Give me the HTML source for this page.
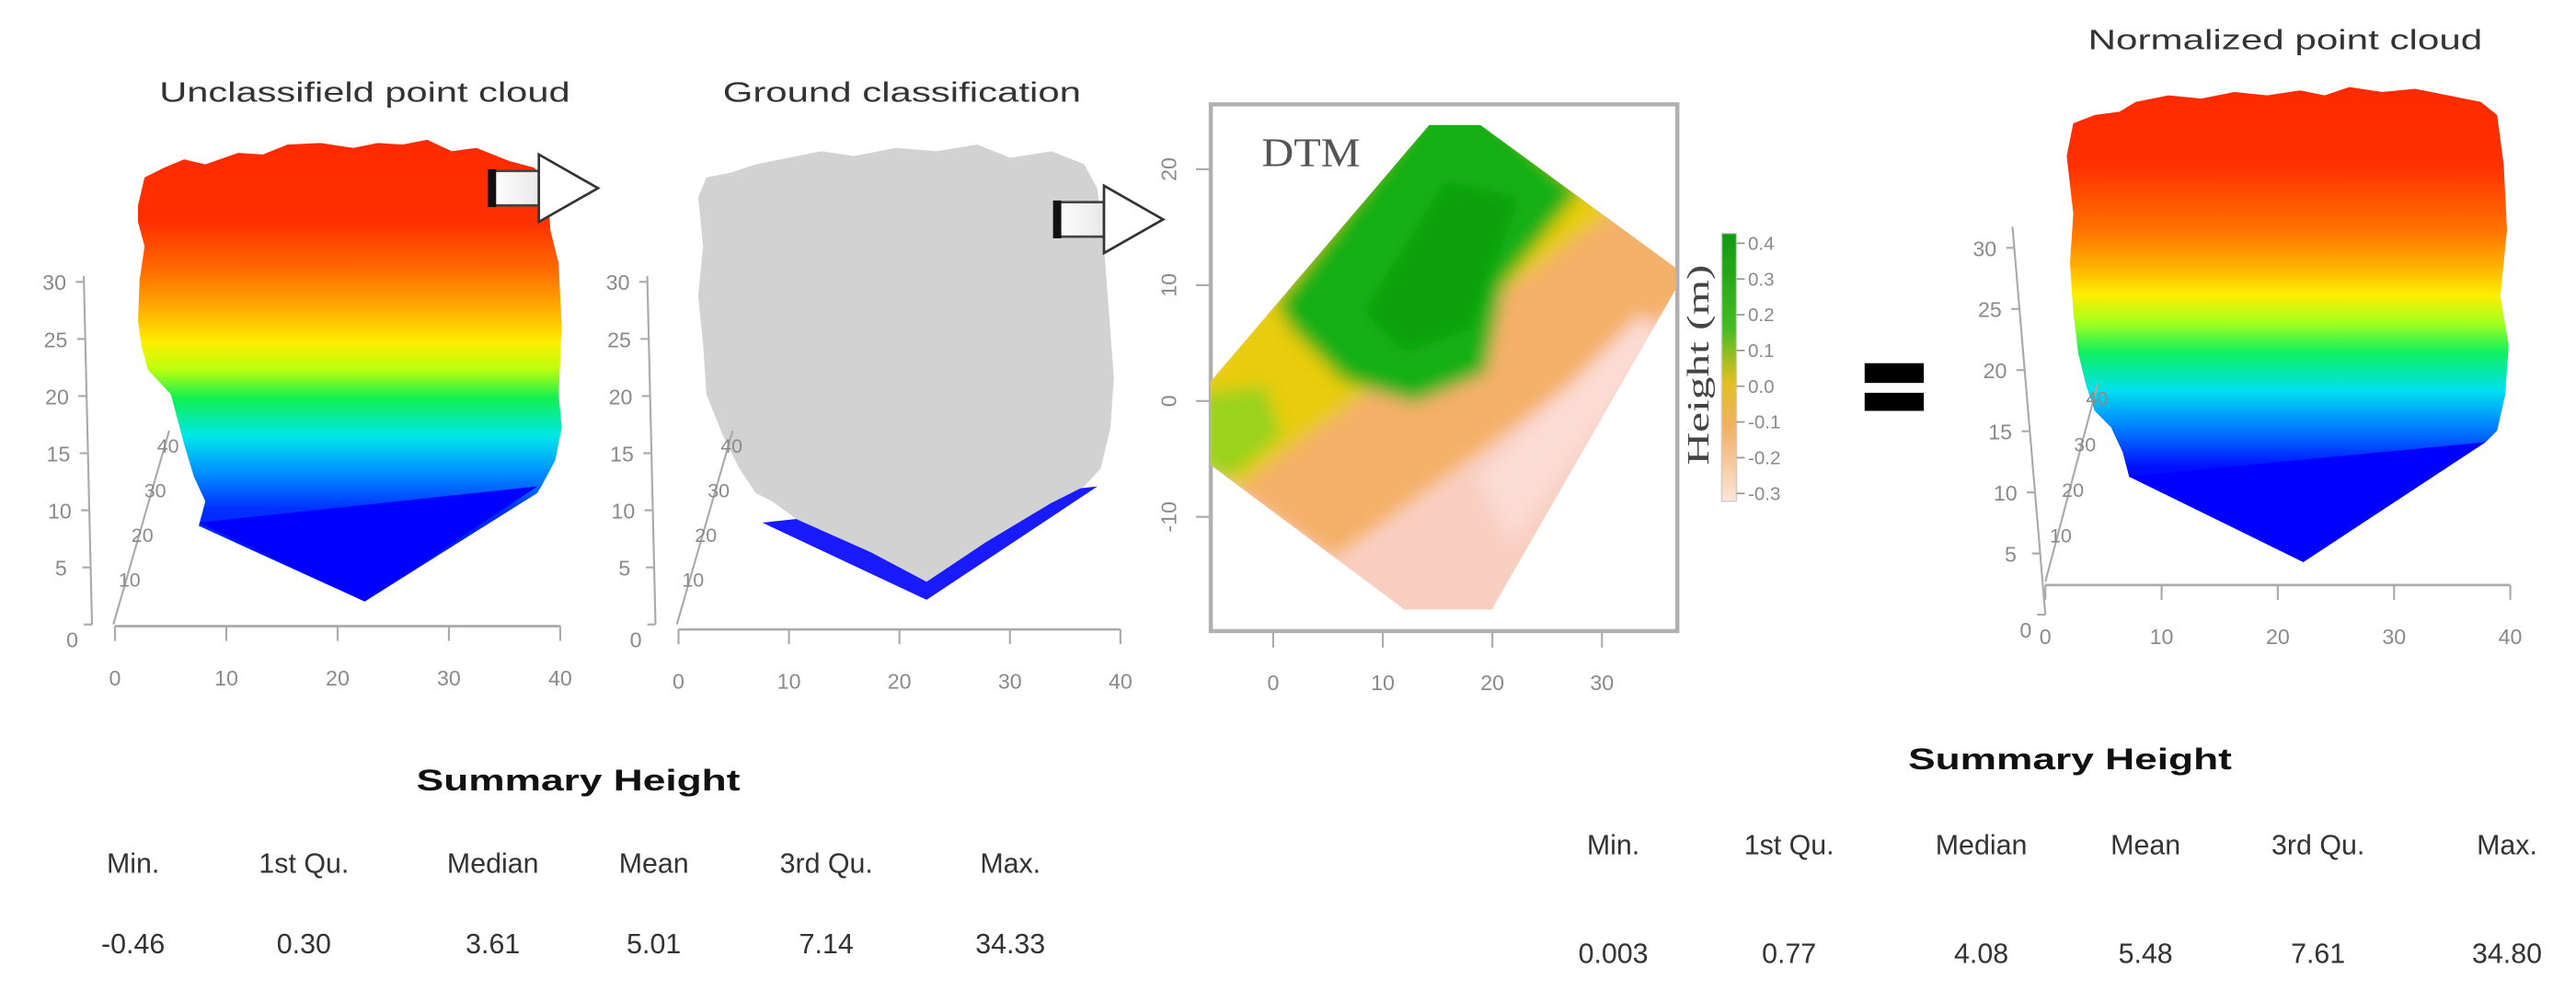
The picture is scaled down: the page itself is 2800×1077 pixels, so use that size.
<!DOCTYPE html>
<html><head><meta charset="utf-8"><style>
html,body{margin:0;padding:0;background:#fff;}
svg{display:block;}
text{font-family:"Liberation Sans",sans-serif;}
</style></head><body>
<svg id="fig" width="2800" height="1077" viewBox="0 0 1568 603" preserveAspectRatio="none" xmlns="http://www.w3.org/2000/svg">
<defs>
<linearGradient id="g1" gradientUnits="userSpaceOnUse" x1="0" y1="85" x2="0" y2="366">
<stop offset="0" stop-color="#ff2a00"/><stop offset="0.18" stop-color="#ff3000"/><stop offset="0.28" stop-color="#ff6a00"/><stop offset="0.35" stop-color="#ffa000"/><stop offset="0.44" stop-color="#ffee00"/><stop offset="0.5" stop-color="#b8ff10"/><stop offset="0.56" stop-color="#10f050"/><stop offset="0.64" stop-color="#00e8e8"/><stop offset="0.72" stop-color="#0090ff"/><stop offset="0.8" stop-color="#0030ff"/><stop offset="1" stop-color="#0000ff"/>
</linearGradient>
<linearGradient id="g4" gradientUnits="userSpaceOnUse" x1="0" y1="52" x2="0" y2="342">
<stop offset="0" stop-color="#ff2a00"/><stop offset="0.17" stop-color="#ff3000"/><stop offset="0.3" stop-color="#ff7000"/><stop offset="0.38" stop-color="#ffb000"/><stop offset="0.44" stop-color="#ffee00"/><stop offset="0.5" stop-color="#a0ff20"/><stop offset="0.56" stop-color="#10f060"/><stop offset="0.64" stop-color="#00e0f0"/><stop offset="0.73" stop-color="#0070ff"/><stop offset="0.8" stop-color="#0010ff"/><stop offset="1" stop-color="#0000ff"/>
</linearGradient>
<linearGradient id="gcb" x1="0" y1="0" x2="0" y2="1">
<stop offset="0" stop-color="#119911"/><stop offset="0.35" stop-color="#44bb22"/><stop offset="0.55" stop-color="#e0c020"/><stop offset="0.72" stop-color="#f2b060"/><stop offset="1" stop-color="#fde4dc"/>
</linearGradient>
<linearGradient id="garrow" x1="0" y1="0" x2="1" y2="0">
<stop offset="0" stop-color="#fff"/><stop offset="1" stop-color="#e8e8e8"/>
</linearGradient>
<clipPath id="dtmclip"><polygon points="870,76 901,76 1020,163 1020,176 908,371 855,371 737,283 737,232"/></clipPath>
<filter id="blur" x="-10%" y="-10%" width="120%" height="120%"><feGaussianBlur stdDeviation="5"/></filter>
</defs>

<!-- Panel 1 -->
<text x="222" y="62" font-size="17" fill="#333" text-anchor="middle" textLength="250" lengthAdjust="spacingAndGlyphs">Unclassifield point cloud</text>
<polygon fill="url(#g1)" points="84,125 88,108 100,102 112,97 125,100 145,93 160,94 175,88 195,87 215,90 230,87 245,88 260,85 275,92 290,90 310,98 325,102 333,110 335,140 340,160 342,200 340,240 342,260 338,280 330,295 327,300 222,366 121,320 125,305 118,290 112,270 108,255 104,240 90,225 86,210 84,195 85,170 88,150 84,135"/>
<polygon fill="#0000ff" points="121,318 327,296 222,366"/>

<!-- Panel 2 -->
<text x="549" y="62" font-size="17" fill="#333" text-anchor="middle" textLength="218" lengthAdjust="spacingAndGlyphs">Ground classification</text>
<polygon fill="#1a1aff" points="464,318 668,296 564,365"/>
<polygon fill="#d2d2d2" points="425,120 430,108 445,105 460,100 480,96 500,92 520,95 545,90 570,92 595,88 615,96 640,92 660,100 668,115 672,150 675,190 678,230 676,260 670,285 660,296 640,306 600,330 564,354 530,336 485,316 470,305 460,300 450,285 440,265 430,240 428,210 425,180 428,150"/>

<!-- Arrows -->
<g>
<rect x="298" y="104" width="30" height="21" fill="url(#garrow)" stroke="#444" stroke-width="1.5"/>
<rect x="297" y="103" width="5" height="23" fill="#111"/>
<polygon points="328,94 364,114.5 328,135" fill="#fff" stroke="#333" stroke-width="1.5"/>
</g>
<g>
<rect x="642" y="123" width="30" height="21" fill="url(#garrow)" stroke="#444" stroke-width="1.5"/>
<rect x="641" y="122" width="5" height="23" fill="#111"/>
<polygon points="672,113 708,133.5 672,154" fill="#fff" stroke="#333" stroke-width="1.5"/>
</g>

<!-- DTM -->
<rect x="737" y="63.5" width="284" height="320.5" fill="#fff" stroke="#b0b0b0" stroke-width="2.5"/>
<g clip-path="url(#dtmclip)">
<rect x="730" y="70" width="300" height="310" fill="#f9cfc2"/>
<g filter="url(#blur)">
<polygon fill="#f4b068" points="870,60 901,60 1030,160 1030,180 812,339 730,283 730,232"/>
<polygon fill="#e8cc10" points="870,60 901,60 982,128 754,296 730,283 730,232"/>
<polygon fill="#9ad21a" points="730,240 770,235 780,265 750,290 730,285"/>
<polygon fill="#12b012" points="870,60 901,60 962,116 915,174 904,227 861,245 818,232 786,200 777,185"/>
<polygon fill="#0aa00a" points="880,110 925,120 895,200 855,215 830,190"/>
<polygon fill="#fbdcd4" points="900,290 1000,190 1010,210 920,330"/>
</g>
</g>
<text x="768" y="101" font-size="25" fill="#555" textLength="60" lengthAdjust="spacingAndGlyphs" style="font-family:'Liberation Serif',serif">DTM</text>
<rect x="1048" y="142" width="9" height="163" fill="url(#gcb)" stroke="#ccc" stroke-width="0.8"/>
<text transform="translate(1040,222) rotate(-90)" text-anchor="middle" font-size="19" fill="#444" style="font-family:'Liberation Serif',serif" textLength="122" lengthAdjust="spacingAndGlyphs">Height (m)</text>
<rect x="1135" y="221" width="36" height="12" fill="#000"/>
<rect x="1135" y="239" width="36" height="11" fill="#000"/>

<!-- Panel 4 -->
<text x="1391" y="30" font-size="17" fill="#333" text-anchor="middle" textLength="240" lengthAdjust="spacingAndGlyphs">Normalized point cloud</text>
<polygon fill="url(#g4)" points="1258,95 1262,75 1275,70 1290,68 1300,62 1320,58 1340,60 1360,56 1380,58 1400,55 1415,58 1430,53 1450,56 1470,54 1490,58 1510,62 1520,70 1524,100 1526,140 1522,180 1527,210 1525,240 1520,262 1513,269 1402,342 1296,290 1292,275 1285,260 1275,250 1270,235 1265,215 1262,190 1260,160 1262,130"/>
<polygon fill="#0000ff" points="1296,290 1513,269 1402,342"/>

<g id="axes"></g>
<g id="tables"></g>
</svg>
<script>
// ---- data arrays ----
const heightTicks = [0, 5, 10, 15, 20, 25, 30];
const depthTicks = [10, 20, 30, 40];
const xTicks = [0, 10, 20, 30, 40];
const dtmXTicks = [0, 10, 20, 30];
const dtmYTicks = [-10, 0, 10, 20];
const colorbarTicks = [0.4, 0.3, 0.2, 0.1, 0.0, -0.1, -0.2, -0.3];
const statHeaders = ["Min.", "1st Qu.", "Median", "Mean", "3rd Qu.", "Max."];
const rawStats = ["-0.46", "0.30", "3.61", "5.01", "7.14", "34.33"];
const normStats = ["0.003", "0.77", "4.08", "5.48", "7.61", "34.80"];

const NS = "http://www.w3.org/2000/svg";
const axes = document.getElementById('axes');
const tables = document.getElementById('tables');
function mk(tag, attrs, parent) {
  const e = document.createElementNS(NS, tag);
  for (const k in attrs) e.setAttribute(k, attrs[k]);
  parent.appendChild(e);
  return e;
}
function line(x1,y1,x2,y2,col,w){return mk('line',{x1:x1,y1:y1,x2:x2,y2:y2,stroke:col,'stroke-width':w},axes);}
function label(x,y,t,size,anchor,rot){
  const e = mk('text',{x:x,y:y,'font-size':size,fill:'#8a8a8a','text-anchor':anchor||'middle'},axes);
  if(rot) e.setAttribute('transform','rotate('+rot+' '+x+' '+y+')');
  e.textContent = t;
  return e;
}
const AX = '#aaa';

function cloudAxes(p) {
  const yScale = v => p.y0 - v * p.ky;
  const xAtY = y => p.vx0 + (p.vx1 - p.vx0) * (p.y0 - y) / (p.y0 - p.vTop);
  const ax = line(p.vx0, p.y0, p.vx1, p.vTop, AX, 1.2);
  
  
  heightTicks.forEach(v => {
    const y = yScale(v); const x = xAtY(y);
    line(x - 5, y, x, y, AX, 1.2);
    if (v > 0) {
      const t = label(x - 18, y + 5, String(v), 13, 'middle');
      
      
    }
  });
  const z0 = label(p.vx0 - 12, p.y0 + 14, '0', 13, 'middle', 0);
  
  
  const d = line(p.dx0, p.dy0, p.dx1, p.dy1, AX, 1.2);
  
  
  depthTicks.forEach(v => {
    const f = v / 40 * 0.92;
    const x = p.dx0 + (p.dx1 - p.dx0) * f, y = p.dy0 + (p.dy1 - p.dy0) * f;
    const t = label(x + 2, y + 4, String(v), 12, 'middle');
    
    
  });
  const xs = v => p.xx0 + (p.xx1 - p.xx0) * v / 40;
  const xl = line(p.xx0, p.xy, p.xx1, p.xy, AX, 1.5);
  
  
  xTicks.forEach(v => {
    line(xs(v), p.xy, xs(v), p.xy + 9, AX, 1.2);
    const t = label(xs(v), p.xy + 36, String(v), 13, 'middle');
    
    
  });
}
cloudAxes({name:'unclassified', vx0:56, vx1:51, y0:380, vTop:168, ky:6.95, dx0:69, dy0:380, dx1:103, dy1:262, xx0:70, xx1:341, xy:381});
cloudAxes({name:'ground', vx0:399, vx1:394, y0:380, vTop:168, ky:6.95, dx0:412, dy0:380, dx1:446, dy1:262, xx0:413, xx1:682, xy:383});
cloudAxes({name:'normalized', vx0:1245, vx1:1225, y0:374, vTop:138, ky:7.44, dx0:1245, dy0:354, dx1:1277, dy1:233, xx0:1245, xx1:1528, xy:356});

const dtmX = v => 775 + v * 6.67;
const dtmY = v => 244 - v * 7.05;
dtmXTicks.forEach(v => {
  line(dtmX(v), 385, dtmX(v), 394, AX, 1.2);
  const t = label(dtmX(v), 420, String(v), 13, 'middle');
  
  
});
dtmYTicks.forEach(v => {
  line(728, dtmY(v), 736, dtmY(v), AX, 1.2);
  const t = label(716, dtmY(v), String(v), 13, 'middle', -90);
  
  
});
const cbY = v => 235 - v * 217.5;
colorbarTicks.forEach(v => {
  line(1057, cbY(v), 1062, cbY(v), '#999', 1);
  const t = label(1064, cbY(v) + 4, v.toFixed(1), 11.5, 'start');
  
  
});

function table(name, titleX, titleY, cols, headY, valY, vals) {
  const t = mk('text',{x:titleX, y:titleY, 'font-size':18, 'font-weight':'bold', fill:'#111', 'text-anchor':'middle', textLength:197, lengthAdjust:'spacingAndGlyphs'}, tables);
  
  
  t.textContent = 'Summary Height';
  statHeaders.forEach((h, i) => {
    const e = mk('text',{x:cols[i], y:headY, 'font-size':17, fill:'#333', 'text-anchor':'middle'}, tables);
    
    
    e.textContent = h;
    const v = mk('text',{x:cols[i], y:valY, 'font-size':17, fill:'#333', 'text-anchor':'middle'}, tables);
    
    
    v.textContent = vals[i];
  });
}
table('raw-summary', 352, 481, [81,185,300,398,503,615], 531, 580, rawStats);
table('normalized-summary', 1260, 468, [982,1089,1206,1306,1411,1526], 520, 586, normStats);
</script>
</body></html>
